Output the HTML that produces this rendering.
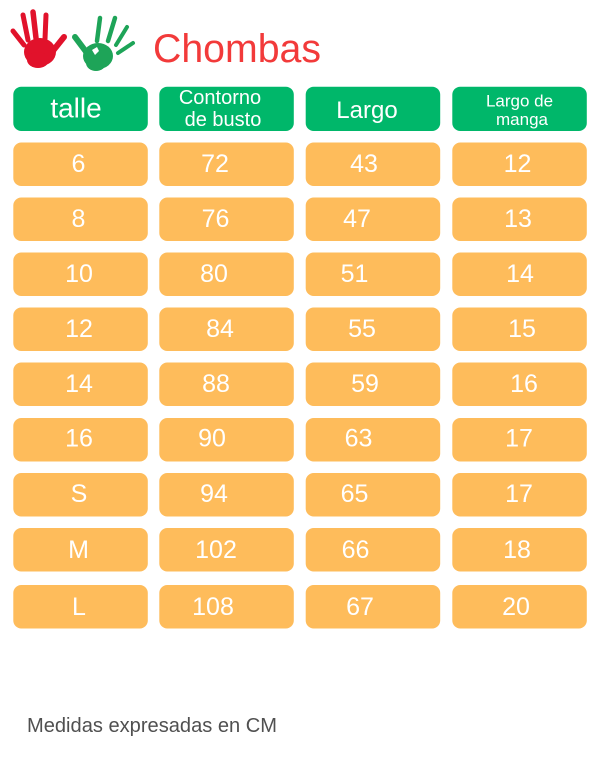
<!DOCTYPE html>
<html>
<head>
<meta charset="utf-8">
<style>
  html, body { margin:0; padding:0; background:#ffffff; }
  body { width:600px; height:766px; overflow:hidden; }
  svg { display:block; }
  text { font-family: "Liberation Sans", "DejaVu Sans", sans-serif; }
</style>
</head>
<body>
<svg width="600" height="766" viewBox="0 0 600 766" xmlns="http://www.w3.org/2000/svg">
  <rect x="0" y="0" width="600" height="766" fill="#ffffff"/>

  <!-- Red hand -->
  <g fill="#E1122B" stroke="#E1122B" stroke-linecap="round">
    <ellipse cx="40" cy="52" rx="16" ry="14" stroke="none"/>
    <ellipse cx="38" cy="60" rx="11" ry="8" stroke="none"/>
    <line x1="13" y1="31" x2="24" y2="45" stroke-width="5"/>
    <line x1="23" y1="15" x2="28" y2="40" stroke-width="5"/>
    <line x1="33" y1="12" x2="36" y2="38" stroke-width="5.5"/>
    <line x1="46" y1="15" x2="45" y2="39" stroke-width="5"/>
    <line x1="64" y1="37" x2="52" y2="52" stroke-width="6"/>
  </g>

  <!-- Green hand -->
  <g fill="#1EA458" stroke="#1EA458" stroke-linecap="round">
    <ellipse cx="98" cy="56" rx="15" ry="13" stroke="none"/>
    <ellipse cx="96" cy="63" rx="10" ry="8" stroke="none"/>
    <line x1="75" y1="37" x2="87" y2="53" stroke-width="6"/>
    <line x1="100" y1="18" x2="97" y2="41" stroke-width="4.5"/>
    <line x1="115" y1="18" x2="108" y2="41" stroke-width="4.5"/>
    <line x1="127" y1="27" x2="116" y2="45" stroke-width="4"/>
    <line x1="133" y1="43" x2="118" y2="53" stroke-width="4"/>
  </g>
  <path d="M92 50 l5 -3 l2 4 l-4 4 z" fill="#ffffff"/>

  <!-- Title -->
  <text x="153" y="62" font-size="40" fill="#F23A3A" textLength="168" lengthAdjust="spacingAndGlyphs">Chombas</text>

  <!-- Header boxes -->
  <defs>
    <clipPath id="h4"><rect x="452.3" y="86.7" width="134.5" height="44.3" rx="8"/></clipPath>
  </defs>
  <g fill="#00B76A">
    <rect x="13.3" y="86.7" width="134.5" height="44.3" rx="8"/>
    <rect x="159.3" y="86.7" width="134.5" height="44.3" rx="8"/>
    <rect x="305.7" y="86.7" width="134.5" height="44.3" rx="8"/>
    <rect x="452.3" y="86.7" width="134.5" height="44.3" rx="8"/>
  </g>
  <g fill="#ffffff" text-anchor="middle">
    <text x="76" y="117.5" font-size="28">talle</text>
    <text x="220" y="104" font-size="20">Contorno</text>
    <text x="223" y="126" font-size="20">de busto</text>
    <text x="367" y="118" font-size="24">Largo</text>
    <g clip-path="url(#h4)">
      <text x="519.5" y="106.5" font-size="17">Largo de</text>
      <text x="522" y="125" font-size="17">manga</text>
    </g>
  </g>

  <!-- Data boxes -->
  <g fill="#FEBC5B">
    <rect x="13.3" y="142.5" width="134.5" height="43.5" rx="8"/>
    <rect x="159.3" y="142.5" width="134.5" height="43.5" rx="8"/>
    <rect x="305.7" y="142.5" width="134.5" height="43.5" rx="8"/>
    <rect x="452.3" y="142.5" width="134.5" height="43.5" rx="8"/>

    <rect x="13.3" y="197.5" width="134.5" height="43.5" rx="8"/>
    <rect x="159.3" y="197.5" width="134.5" height="43.5" rx="8"/>
    <rect x="305.7" y="197.5" width="134.5" height="43.5" rx="8"/>
    <rect x="452.3" y="197.5" width="134.5" height="43.5" rx="8"/>

    <rect x="13.3" y="252.5" width="134.5" height="43.5" rx="8"/>
    <rect x="159.3" y="252.5" width="134.5" height="43.5" rx="8"/>
    <rect x="305.7" y="252.5" width="134.5" height="43.5" rx="8"/>
    <rect x="452.3" y="252.5" width="134.5" height="43.5" rx="8"/>

    <rect x="13.3" y="307.5" width="134.5" height="43.5" rx="8"/>
    <rect x="159.3" y="307.5" width="134.5" height="43.5" rx="8"/>
    <rect x="305.7" y="307.5" width="134.5" height="43.5" rx="8"/>
    <rect x="452.3" y="307.5" width="134.5" height="43.5" rx="8"/>

    <rect x="13.3" y="362.5" width="134.5" height="43.5" rx="8"/>
    <rect x="159.3" y="362.5" width="134.5" height="43.5" rx="8"/>
    <rect x="305.7" y="362.5" width="134.5" height="43.5" rx="8"/>
    <rect x="452.3" y="362.5" width="134.5" height="43.5" rx="8"/>

    <rect x="13.3" y="418" width="134.5" height="43.5" rx="8"/>
    <rect x="159.3" y="418" width="134.5" height="43.5" rx="8"/>
    <rect x="305.7" y="418" width="134.5" height="43.5" rx="8"/>
    <rect x="452.3" y="418" width="134.5" height="43.5" rx="8"/>

    <rect x="13.3" y="473" width="134.5" height="43.5" rx="8"/>
    <rect x="159.3" y="473" width="134.5" height="43.5" rx="8"/>
    <rect x="305.7" y="473" width="134.5" height="43.5" rx="8"/>
    <rect x="452.3" y="473" width="134.5" height="43.5" rx="8"/>

    <rect x="13.3" y="528" width="134.5" height="43.5" rx="8"/>
    <rect x="159.3" y="528" width="134.5" height="43.5" rx="8"/>
    <rect x="305.7" y="528" width="134.5" height="43.5" rx="8"/>
    <rect x="452.3" y="528" width="134.5" height="43.5" rx="8"/>

    <rect x="13.3" y="585" width="134.5" height="43.5" rx="8"/>
    <rect x="159.3" y="585" width="134.5" height="43.5" rx="8"/>
    <rect x="305.7" y="585" width="134.5" height="43.5" rx="8"/>
    <rect x="452.3" y="585" width="134.5" height="43.5" rx="8"/>
  </g>

  <g fill="#ffffff" font-size="25" text-anchor="middle">
    <text x="78.5" y="172">6</text>
    <text x="215" y="172">72</text>
    <text x="364" y="172">43</text>
    <text x="517.5" y="172">12</text>

    <text x="78.5" y="227">8</text>
    <text x="215.5" y="227">76</text>
    <text x="357" y="227">47</text>
    <text x="518" y="227">13</text>

    <text x="79" y="282">10</text>
    <text x="214" y="282">80</text>
    <text x="354.5" y="282">51</text>
    <text x="520" y="282">14</text>

    <text x="79" y="337">12</text>
    <text x="220" y="337">84</text>
    <text x="362" y="337">55</text>
    <text x="522" y="337">15</text>

    <text x="79" y="392">14</text>
    <text x="216" y="392">88</text>
    <text x="365" y="392">59</text>
    <text x="524" y="392">16</text>

    <text x="79" y="446.5">16</text>
    <text x="212" y="446.5">90</text>
    <text x="358.5" y="446.5">63</text>
    <text x="519" y="446.5">17</text>

    <text x="79" y="502">S</text>
    <text x="214" y="502">94</text>
    <text x="354.5" y="502">65</text>
    <text x="519" y="502">17</text>

    <text x="78.5" y="558">M</text>
    <text x="216" y="558">102</text>
    <text x="355.5" y="558">66</text>
    <text x="517" y="558">18</text>

    <text x="79" y="615">L</text>
    <text x="213" y="615">108</text>
    <text x="360" y="615">67</text>
    <text x="516" y="615">20</text>
  </g>

  <!-- Footer -->
  <text x="27" y="732" font-size="20" fill="#505050" textLength="250" lengthAdjust="spacingAndGlyphs">Medidas expresadas en CM</text>
</svg>
</body>
</html>
